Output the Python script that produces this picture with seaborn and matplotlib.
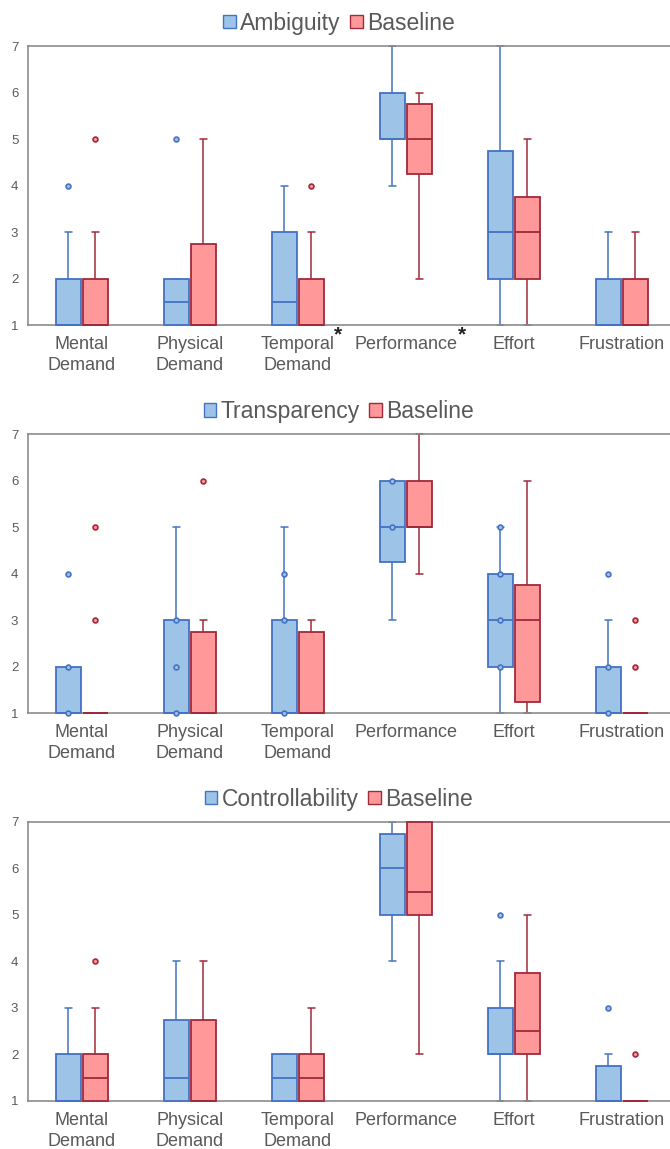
import numpy as np
import pandas as pd
import matplotlib.pyplot as plt
import seaborn as sns
from matplotlib.patches import Patch
from matplotlib.transforms import blended_transform_factory

sns.set_theme(style="white")
plt.rcParams["font.family"] = ["Liberation Sans", "DejaVu Sans"]

# NASA-TLX dimensions
tasks = ["Mental\nDemand", "Physical\nDemand", "Temporal\nDemand",
         "Performance", "Effort", "Frustration"]

# box summaries per task: (low whisker, q1, median, q3, high whisker)
ambiguity_box = [(1, 1, 1, 2, 3), (1, 1, 1.5, 2, 2), (1, 1, 1.5, 3, 4),
                 (4, 5, 5, 6, 7), (1, 2, 3, 4.75, 7), (1, 1, 1, 2, 3)]
ambiguity_base_box = [(1, 1, 1, 2, 3), (1, 1, 1, 2.75, 5), (1, 1, 1, 2, 3),
                      (2, 4.25, 5, 5.75, 6), (1, 2, 3, 3.75, 5), (1, 1, 1, 2, 3)]
ambiguity_pts = [[4], [5], [], [], [], []]
ambiguity_base_pts = [[5], [], [4], [], [], []]

transparency_box = [(1, 1, 1, 2, 2), (1, 1, 1, 3, 5), (1, 1, 1, 3, 5),
                    (3, 4.25, 5, 6, 6), (1, 2, 3, 4, 5), (1, 1, 1, 2, 3)]
transparency_base_box = [(1, 1, 1, 1, 1), (1, 1, 1, 2.75, 3), (1, 1, 1, 2.75, 3),
                         (4, 5, 5, 6, 7), (1, 1.25, 3, 3.75, 6), (1, 1, 1, 1, 1)]
transparency_pts = [[1, 2, 4], [1, 2, 3], [1, 3, 4], [5, 6], [2, 3, 4, 5], [1, 2, 4]]
transparency_base_pts = [[3, 5], [6], [], [], [], [2, 3]]

control_box = [(1, 1, 1, 2, 3), (1, 1, 1.5, 2.75, 4), (1, 1, 1.5, 2, 2),
               (4, 5, 6, 6.75, 7), (1, 2, 2, 3, 4), (1, 1, 1, 1.75, 2)]
control_base_box = [(1, 1, 1.5, 2, 3), (1, 1, 1, 2.75, 4), (1, 1, 1.5, 2, 3),
                    (2, 5, 5.5, 7, 7), (1, 2, 2.5, 3.75, 5), (1, 1, 1, 1, 1)]
control_pts = [[], [], [], [], [5], [3]]
control_base_pts = [[4], [], [], [], [], [2]]

panels = [
    ("Ambiguity", ambiguity_box, ambiguity_base_box, ambiguity_pts, ambiguity_base_pts),
    ("Transparency", transparency_box, transparency_base_box, transparency_pts, transparency_base_pts),
    ("Controllability", control_box, control_base_box, control_pts, control_base_pts),
]
significant = {2: 0.37, 3: 0.52}  # only marked on the first panel

fill = ["#9DC3E6", "#FF9999"]
edge = ["#4472C4", "#A0293A"]
text_col = "#595959"
spine_col = "#8C8C8C"

fig = plt.figure(figsize=(6.7, 11.49), dpi=100)
bottoms = [0.7171, 0.3792, 0.0418]

for p, (name, box_a, box_b, pts_a, pts_b) in enumerate(panels):
    ax = fig.add_axes([0.0418, bottoms[p], 0.967, 0.2428])
    levels = [name, "Baseline"]

    # each five-number summary is fed as five values, whiskers span min..max
    rows = []
    for level, boxes in zip(levels, [box_a, box_b]):
        for task, stats in zip(tasks, boxes):
            for v in stats:
                rows.append((task, level, v))
    df = pd.DataFrame(rows, columns=["task", "cond", "score"])

    sns.boxplot(data=df, x="task", y="score", hue="cond", order=tasks,
                hue_order=levels, palette=dict(zip(levels, fill)), saturation=1,
                width=0.5, gap=0.08, whis=(0, 100), showfliers=False,
                linewidth=1.3, legend=False, ax=ax)

    for k, cont in enumerate(ax.containers):
        for b in cont.boxes:
            b.set_edgecolor(edge[k])
            b.set_zorder(3)
        for ln in list(cont.whiskers) + list(cont.caps):
            ln.set_color(edge[k])
            ln.set_linewidth(1.1)
        for ln in cont.medians:
            ln.set_color(edge[k])
            ln.set_zorder(3.5)
        for cap in cont.caps:
            c = np.mean(cap.get_xdata())
            cap.set_xdata([c - 0.03, c + 0.03])

    # outliers / individual points
    offsets = [-0.125, 0.125]
    for k, pts in enumerate([pts_a, pts_b]):
        xs, ys = [], []
        for i, vals in enumerate(pts):
            for v in vals:
                xs.append(i + offsets[k])
                ys.append(v)
        if xs:
            sns.scatterplot(x=xs, y=ys, s=12, color=fill[k], edgecolor=edge[k],
                            linewidth=1.2, zorder=5, ax=ax, legend=False)

    for art in ax.lines + ax.patches + ax.collections:
        art.set_clip_on(False)

    ax.set_xlim(-0.5, 5.5)
    ax.set_ylim(1, 7)
    ax.set_yticks(range(1, 8))
    ax.set_xticks(range(len(tasks)))
    ax.set_xticklabels(tasks, fontsize=13, color=text_col, linespacing=1.3)
    ax.tick_params(axis="y", labelsize=9.5, labelcolor=text_col, length=0, pad=7)
    ax.tick_params(axis="x", length=0, pad=8)
    ax.set_xlabel("")
    ax.set_ylabel("")
    for side in ["top", "bottom", "left"]:
        ax.spines[side].set_color(spine_col)
        ax.spines[side].set_linewidth(1.2)
    ax.spines["right"].set_visible(False)

    handles = [Patch(facecolor=fill[k], edgecolor=edge[k], linewidth=1) for k in range(2)]
    ax.legend(handles, levels, loc="lower center", bbox_to_anchor=(0.48, 1.0),
              ncol=2, frameon=False, fontsize=16.5, labelcolor=text_col,
              handlelength=0.55, handleheight=0.55, handletextpad=0.2,
              columnspacing=0.4, borderaxespad=0.1)

    if p == 0:
        tr = blended_transform_factory(ax.transData, ax.transAxes)
        for i, dx in significant.items():
            ax.text(i + dx, 0.0, "*", transform=tr, fontsize=15,
                    fontweight="bold", color="#222222", ha="center", va="top")

fig.savefig("out.png", dpi=100)
